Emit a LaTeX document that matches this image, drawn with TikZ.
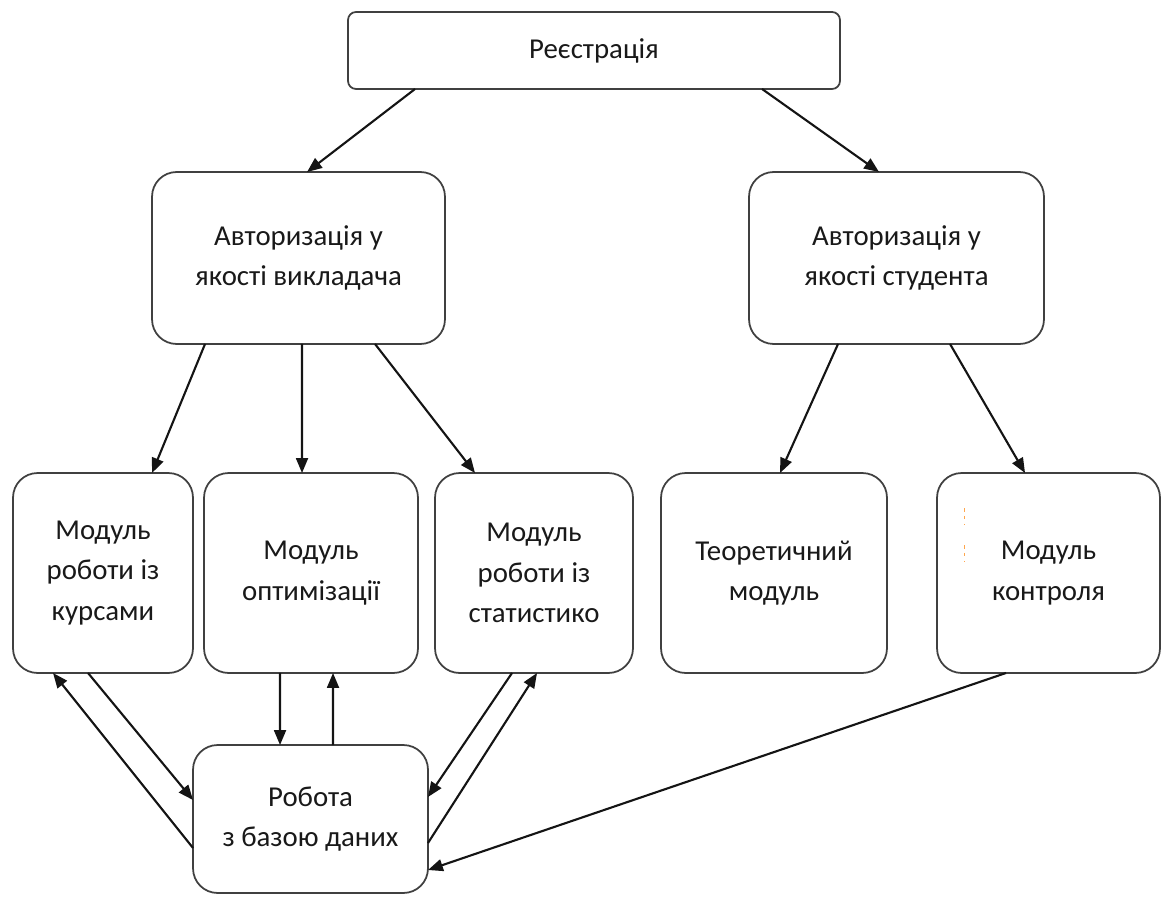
\documentclass[tikz,border=0pt]{standalone}
\usepackage{fontspec}
\setmainfont{Carlito}
\usetikzlibrary{arrows.meta,calc}

\tikzset{
  box/.style={draw=black!75, line width=1pt, fill=white, rounded corners=14pt,
    inner sep=0pt, outer sep=0pt, align=center, text=black!90,
    font=\fontsize{16.4}{23}\selectfont},
  flat/.style={box, rounded corners=4.5pt},
  link/.style={draw=black!92, line width=1.2pt,
    -{Triangle[length=8.5pt,width=6.8pt]}},
  tick/.style={draw=orange!70, line width=0.5pt, dash pattern=on 2pt off 2.5pt}
}

\begin{document}
\begin{tikzpicture}[x=0.02cm, y=-0.02cm]
  \useasboundingbox (0,0) rectangle (1162,898);

  % top: registration
  \node[flat, minimum width=9.84cm, minimum height=1.54cm] (reg) at (594,50.5) {Реєстрація};

  % authorization level
  \node[box, minimum width=5.86cm, minimum height=3.44cm] (tch) at (298.5,258)
    {Авторизація у\\якості викладача};
  \node[box, minimum width=5.9cm, minimum height=3.44cm] (std) at (896.5,258)
    {Авторизація у\\якості студента};

  % modules
  \node[box, minimum width=3.6cm, minimum height=4cm] (m1) at (103,573)
    {Модуль\\роботи із\\курсами};
  \node[box, minimum width=4.28cm, minimum height=4cm] (m2) at (311,573)
    {Модуль\\оптимізації};
  \node[box, minimum width=3.96cm, minimum height=4cm] (m3) at (534,573)
    {Модуль\\роботи із\\статистико};
  \node[box, minimum width=4.52cm, minimum height=4cm] (m4) at (774,573)
    {Теоретичний\\модуль};
  \node[box, minimum width=4.46cm, minimum height=4cm] (m5) at (1048.5,573)
    {Модуль\\контроля};

  % database
  \node[box, minimum width=4.7cm, minimum height=2.96cm] (db) at (310.5,819)
    {Робота\\з базою даних};

  % small marks inside the control module box
  \draw[tick] ($(m5.north west)+(27,35)$) -- ($(m5.north west)+(27,52)$);
  \draw[tick] ($(m5.north west)+(27,72)$) -- ($(m5.north west)+(27,89)$);

  % registration -> authorization
  \draw[link] ($(reg.south west)+(67,0)$) -- ($(tch.north west)+(155,0)$);
  \draw[link] ($(reg.south west)+(414,0)$) -- ($(std.north west)+(130,0)$);

  % teacher -> modules
  \draw[link] ($(tch.south west)+(53,0)$) -- ($(m1.north west)+(139,0)$);
  \draw[link] ($(tch.south west)+(150,0)$) -- ($(m2.north west)+(98,0)$);
  \draw[link] ($(tch.south west)+(223,0)$) -- ($(m3.north west)+(40,0)$);

  % student -> modules
  \draw[link] ($(std.south west)+(89,0)$) -- ($(m4.north west)+(119,0)$);
  \draw[link] ($(std.south west)+(201,0)$) -- ($(m5.north west)+(88,0)$);

  % modules <-> database
  \draw[link] ($(db.north west)+(0,103)$) -- ($(m1.south west)+(40,0)$);
  \draw[link] ($(m1.south west)+(75,0)$) -- ($(db.north west)+(0,55)$);
  \draw[link] ($(m2.south west)+(76,0)$) -- ($(db.north west)+(87,0)$);
  \draw[link] ($(db.north west)+(140,0)$) -- ($(m2.south west)+(129,0)$);
  \draw[link] ($(m3.south west)+(77,0)$) -- ($(db.north east)+(0,52)$);
  \draw[link] ($(db.north east)+(0,98)$) -- ($(m3.south west)+(102,0)$);
  \draw[link] ($(m5.south west)+(69,0)$) -- ($(db.north east)+(0,125)$);
\end{tikzpicture}
\end{document}
